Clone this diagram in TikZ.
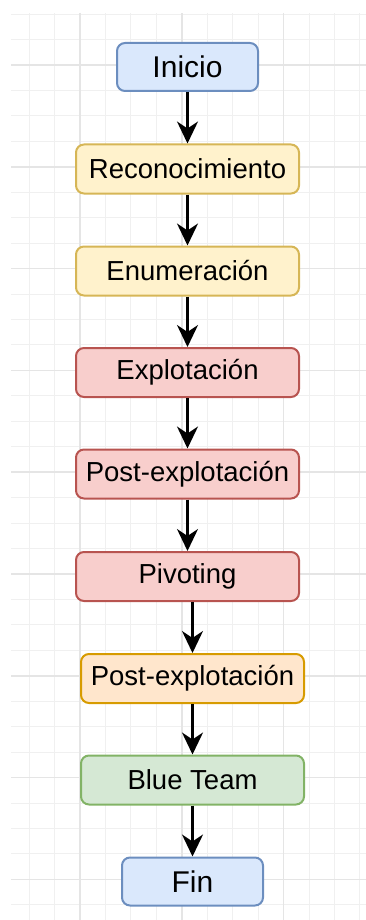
\documentclass[tikz,border=0pt]{standalone}
\usepackage{fontspec}
\setmainfont{Liberation Sans}
\usetikzlibrary{arrows.meta}

\definecolor{azulF}{HTML}{DAE8FC}\definecolor{azulD}{HTML}{6C8EBF}
\definecolor{amaF}{HTML}{FFF2CC}\definecolor{amaD}{HTML}{D6B656}
\definecolor{rojoF}{HTML}{F8CECC}\definecolor{rojoD}{HTML}{B85450}
\definecolor{narF}{HTML}{FFE6CC}\definecolor{narD}{HTML}{D79B00}
\definecolor{verdeF}{HTML}{D5E8D4}\definecolor{verdeD}{HTML}{82B366}

\begin{document}
\begin{tikzpicture}[x=1pt, y=-1pt,
  fase/.style={draw, rounded corners=8pt, line width=2pt, minimum width=223pt,
    minimum height=49pt, inner sep=0pt, font=\fontsize{27.5}{31}\selectfont},
  borde/.style={fase, minimum width=141pt, minimum height=48pt,
    font=\fontsize{30}{34}\selectfont},
  flecha/.style={line width=2.2pt, -{Stealth[length=22pt, width=21pt, inset=7pt]}}]
\useasboundingbox (0,0) rectangle (366,920);
% cuadricula de fondo
\begin{scope}
\clip (11,13) rectangle (366,920);
\foreach \k in {1,...,14} {
  \pgfmathsetmacro\xx{3.65+25.45*\k}
  \draw[black!6, line width=1pt] (\xx,13) -- (\xx,920);
}
\foreach \k in {0,...,35} {
  \pgfmathsetmacro\yy{14.1+25.45*\k}
  \draw[black!6, line width=1pt] (11,\yy) -- (366,\yy);
}
\foreach \k in {3,7,11} \draw[black!10, line width=1.6pt] ({3.65+25.45*\k},13) -- ({3.65+25.45*\k},920);
\foreach \k in {2,6,...,34} \draw[black!10, line width=1.6pt] (11,{14.1+25.45*\k}) -- (366,{14.1+25.45*\k});
\end{scope}

% fases
\node[borde, fill=azulF, draw=azulD] (inicio) at (187.5,67) {Inicio};
\node[fase, fill=amaF, draw=amaD] (recon) at (187.5,169) {Reconocimiento};
\node[fase, fill=amaF, draw=amaD] (enum) at (187.5,271) {Enumeración};
\node[fase, fill=rojoF, draw=rojoD] (explo) at (187.5,372.5) {Explotación};
\node[fase, fill=rojoF, draw=rojoD] (post) at (187.5,474) {Post-explotación};
\node[fase, fill=rojoF, draw=rojoD] (pivot) at (187.5,576.5) {Pivoting};
\node[fase, fill=narF, draw=narD] (postb) at (192.5,678.5) {Post-explotación};
\node[fase, fill=verdeF, draw=verdeD] (blue) at (192.5,780) {Blue Team};
\node[borde, fill=azulF, draw=azulD] (fin) at (192.5,881.5) {Fin};

% flechas
\draw[flecha] (inicio) -- (recon);
\draw[flecha] (recon) -- (enum);
\draw[flecha] (enum) -- (explo);
\draw[flecha] (explo) -- (post);
\draw[flecha] (post) -- (pivot);
\draw[flecha] (pivot.south -| postb.north) -- (postb.north);
\draw[flecha] (postb) -- (blue);
\draw[flecha] (blue) -- (fin);
\end{tikzpicture}
\end{document}
